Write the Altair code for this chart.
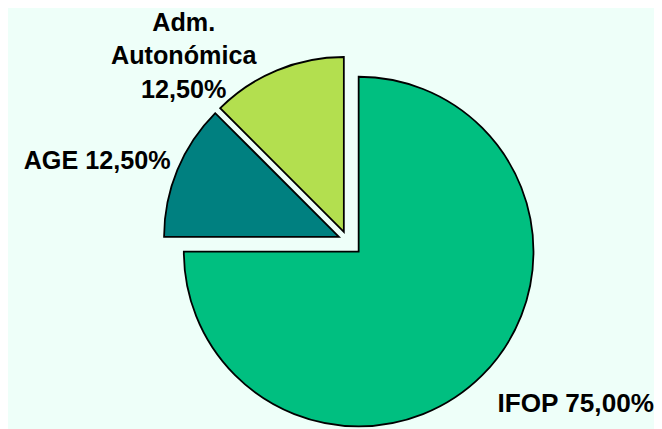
import altair as alt
import pandas as pd

categorias = ["IFOP", "AGE", "Adm. Autonómica"]
porcentajes = [75.0, 12.5, 12.5]
etiquetas = ["IFOP 75,00%", "AGE 12,50%", "Adm.\nAutonómica\n12,50%"]
colores = ["#00BF80", "#008080", "#B3DF4F"]

# per-slice layout (style): centre of the (exploded) slice and label offsets
centros = [(355, 244), (335, 229), (340, 224)]
etiqueta_pos = [(216, 67, 2, 26.5), (200, -60, 0, 25.5), (191, -89, -35, 25.5)]  # radius, dx, dy, size

df = pd.DataFrame({"categoria": categorias, "valor": porcentajes, "etiqueta": etiquetas})

base = (
    alt.Chart(df)
    .transform_joinaggregate(total="sum(valor)")
    .transform_window(acum="sum(valor)")
    .transform_calculate(t0="2*PI*(datum.acum-datum.valor)/datum.total")
    .transform_calculate(t1="2*PI*datum.acum/datum.total")
    .transform_calculate(tm="(datum.t0+datum.t1)/2")
)

capas = []
for i, cat in enumerate(categorias):
    cx, cy = centros[i]
    r, dx, dy, fs = etiqueta_pos[i]
    sub = base.transform_filter(alt.datum.categoria == cat)
    arco = sub.mark_arc(
        radius=177, stroke="black", strokeWidth=1.8, fill=colores[i], strokeJoin="miter"
    ).encode(
        theta=alt.Theta("t0:Q", scale=None),
        theta2=alt.Theta2("t1:Q"),
        x=alt.value(cx),
        y=alt.value(cy),
    )
    texto = sub.mark_text(
        radius=r, dx=dx, dy=dy, font="Liberation Sans", fontWeight="bold",
        fontSize=fs, lineBreak="\n", lineHeight=34, color="black",
        align="center", baseline="middle",
    ).encode(
        theta=alt.Theta("tm:Q", scale=None),
        text="etiqueta:N",
        x=alt.value(cx),
        y=alt.value(cy),
    )
    capas += [arco, texto]

chart = (
    alt.layer(*capas)
    .properties(width=654, height=421, padding=0, autosize="none", background="#EEFFF9")
    .configure_view(stroke=None)
)

chart.save("out.html", embed_options={"renderer": "svg", "actions": False})
